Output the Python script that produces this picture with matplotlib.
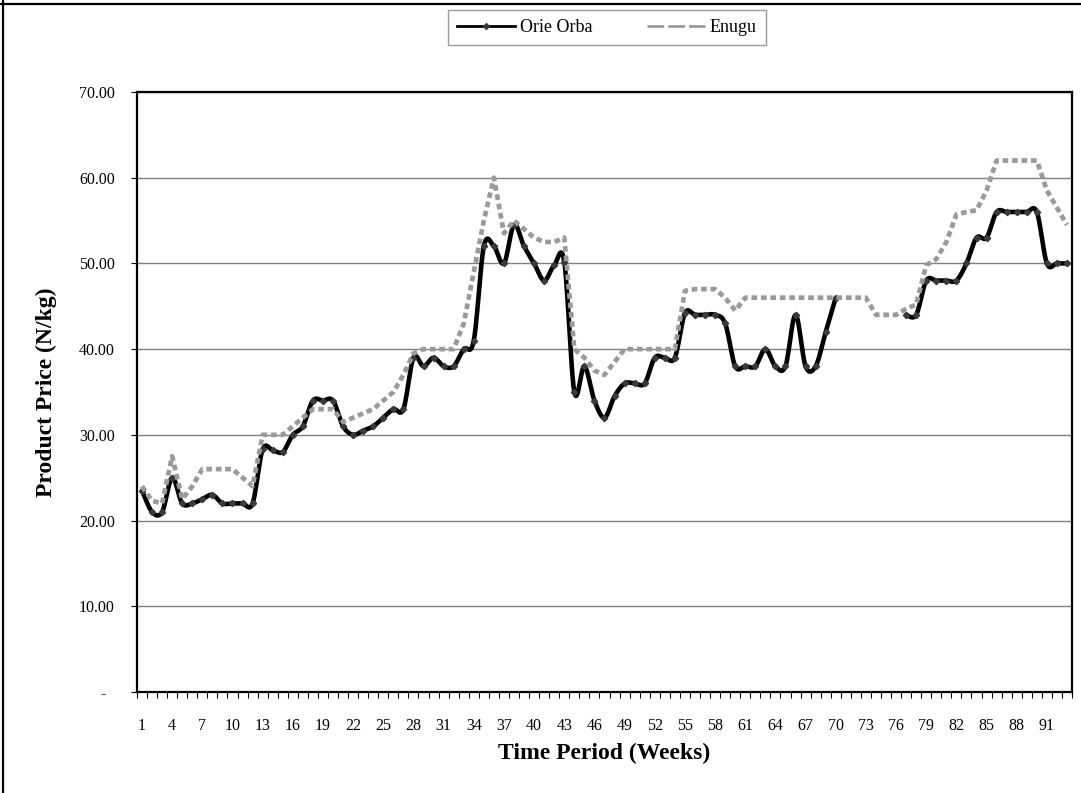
import numpy as np
import matplotlib.pyplot as plt
from matplotlib.lines import Line2D

plt.rcParams['font.family'] = ['Liberation Serif', 'DejaVu Serif']

# weekly prices (N/kg), weeks 1-93; None = no market record
weeks = list(range(1, 94))

orie_orba = [23.5, 21.0, 21.0, 25.0, 22.0, 22.0, 22.5, 23.0, 22.0, 22.0,
             22.0, 22.0, 28.3, 28.2, 28.0, 30.0, 31.0, 34.0, 34.0, 34.0,
             31.0, 30.0, 30.5, 31.0, 32.0, 33.0, 33.0, 39.0, 38.0, 39.0,
             38.0, 38.0, 40.0, 41.0, 52.0, 52.0, 50.0, 54.5, 52.0, 50.0,
             48.0, 49.8, 50.2, 35.0, 38.0, 34.0, 32.0, 34.5, 36.0, 36.0,
             36.0, 39.0, 39.0, 39.0, 44.2, 44.0, 44.0, 44.0, 43.0, 38.0,
             38.0, 38.0, 40.0, 38.0, 38.0, 44.0, 38.0, 38.0, 42.0, 46.0,
             None, None, None, None, None, None, 44.0, 44.0, 48.0, 48.0,
             48.0, 48.0, 50.0, 53.0, 53.0, 56.0, 56.0, 56.0, 56.0, 56.0,
             50.0, 50.0, 50.0]

enugu = [24.0, 22.3, 22.0, 27.5, 22.5, 24.0, 26.0, 26.0, 26.0, 26.0,
         25.0, 24.0, 30.0, 30.0, 30.0, 31.0, 32.0, 33.0, 33.0, 33.0,
         31.5, 32.0, 32.5, 33.0, 34.0, 35.0, 37.0, 39.5, 40.0, 40.0,
         40.0, 40.0, 43.0, 49.0, 55.0, 60.0, 53.5, 55.0, 54.0, 53.0,
         52.5, 52.5, 53.0, 40.0, 39.0, 37.5, 37.0, 38.5, 40.0, 40.0,
         40.0, 40.0, 40.0, 40.0, 46.8, 47.0, 47.0, 47.0, 46.0, 44.5,
         46.0, 46.0, 46.0, 46.0, 46.0, 46.0, 46.0, 46.0, 46.0, 46.0,
         46.0, 46.0, 46.0, 44.0, 44.0, 44.0, 44.7, 45.2, 49.8, 50.5,
         52.5, 55.7, 56.0, 56.2, 58.5, 62.0, 62.0, 62.0, 62.0, 62.0,
         58.5, 56.5, 54.5]

y_ticks = [0, 10, 20, 30, 40, 50, 60, 70]
x_labels = list(range(1, 92, 3))


def smooth(x, y, steps=12):
    # Catmull-Rom curve through the points, broken where data is missing
    x = np.asarray(x, float)
    y = np.array([np.nan if v is None else v for v in y], float)
    ok = ~np.isnan(y)
    xs, ys = [], []
    i, n = 0, len(x)
    while i < n:
        if not ok[i]:
            i += 1
            continue
        j = i
        while j < n and ok[j]:
            j += 1
        px, py = x[i:j], y[i:j]
        t = np.linspace(0, 1, steps, endpoint=False)
        for k in range(len(px) - 1):
            a = k - 1 if k > 0 else k
            d = k + 2 if k + 2 < len(px) else k + 1
            for arr, out in ((px, xs), (py, ys)):
                p0, p1, p2, p3 = arr[a], arr[k], arr[k + 1], arr[d]
                out.extend(0.5 * (2 * p1 + (-p0 + p2) * t
                                  + (2 * p0 - 5 * p1 + 4 * p2 - p3) * t ** 2
                                  + (-p0 + 3 * p1 - 3 * p2 + p3) * t ** 3))
        xs += [px[-1], np.nan]
        ys += [py[-1], np.nan]
        i = j
    return xs, ys


fig = plt.figure(figsize=(10.81, 7.93), dpi=100)
ax = fig.add_axes([0.1267, 0.1274, 0.865, 0.7566])

sx, sy = smooth(weeks, orie_orba)
ax.plot(sx, sy, color='black', lw=3.3, solid_capstyle='round', zorder=3)
ox = [w for w, v in zip(weeks, orie_orba) if v is not None]
oy = [v for v in orie_orba if v is not None]
ax.plot(ox, oy, ls='none', marker='D', ms=3.2, color='#3a3a3a', zorder=4)

ax.plot(weeks, enugu, color='#9a9a9a', lw=3.4, ls=(0, (1.2, 0.8)),
        dash_capstyle='butt', zorder=5)

ax.set_xlim(0.5, 93.5)
ax.set_ylim(0, 70)

ax.set_yticks(y_ticks)
ax.set_yticklabels(['-  '] + ['%.2f' % v for v in y_ticks[1:]])
ax.set_xticks(x_labels)
ax.set_xticks(np.arange(0.5, 94, 1), minor=True)
ax.tick_params(axis='x', which='major', length=0, pad=19, labelsize=11.5)
ax.tick_params(axis='x', which='minor', length=4, width=0.8, direction='out')
ax.tick_params(axis='y', which='major', length=4, width=0.8, pad=12, labelsize=11.5)

ax.yaxis.grid(True, color='#808080', lw=1)
ax.set_axisbelow(True)
for s in ax.spines.values():
    s.set_linewidth(1.6)
    s.set_color('black')

ax.set_xlabel('Time Period (Weeks)', fontsize=17, fontweight='bold', labelpad=6)
ax.set_ylabel('Product Price (N/kg)', fontsize=17, fontweight='bold', labelpad=16)

handles = [Line2D([], [], color='black', lw=2, marker='D', ms=3, mfc='#3a3a3a', mec='#3a3a3a'),
           Line2D([], [], color='#9a9a9a', lw=2, ls=(0, (6, 1.5)))]
leg = fig.legend(handles, ['Orie Orba', 'Enugu'], loc='center', bbox_to_anchor=(0.5615, 0.965),
                 ncol=2, fontsize=13, frameon=True, fancybox=False, handlelength=3.2,
                 columnspacing=3, borderpad=0.5, handletextpad=0.3)
leg.get_frame().set_edgecolor('#808080')
leg.get_frame().set_linewidth(1)

# outer chart border (top and left edges)
fig.add_artist(Line2D([0, 1], [0.995, 0.995], color='black', lw=1.6, transform=fig.transFigure))
fig.add_artist(Line2D([0.0025, 0.0025], [0, 1], color='black', lw=1.6, transform=fig.transFigure))

fig.savefig('out.png', dpi=100)
